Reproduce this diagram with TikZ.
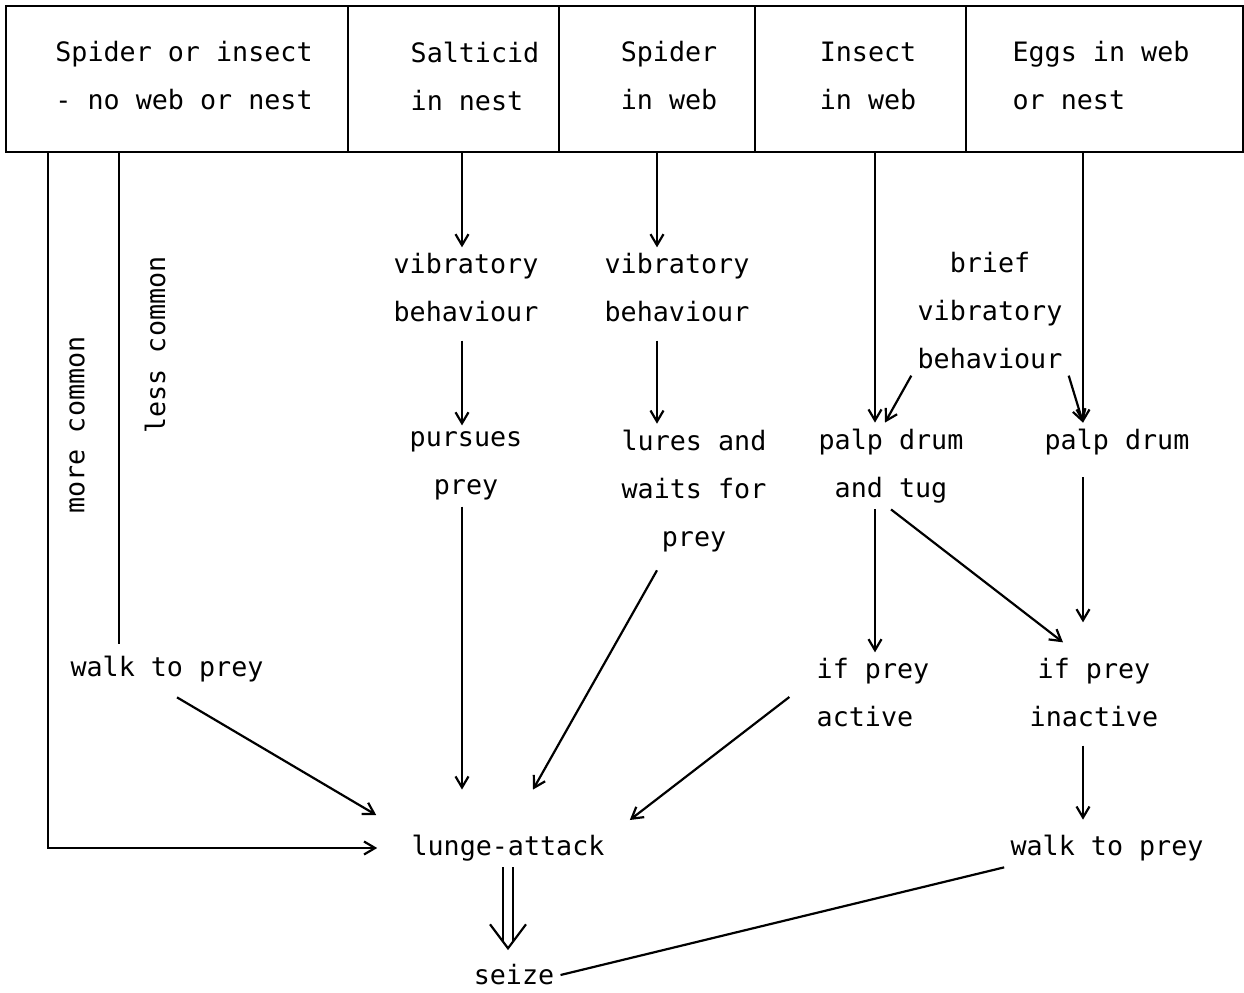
\documentclass[tikz,border=0pt]{standalone}
\usepackage{fontspec}
\setmonofont{DejaVu Sans Mono}
\usetikzlibrary{arrows.meta,calc}
\begin{document}
\begin{tikzpicture}[x=0.02cm,y=-0.02cm,
  txt/.style={font=\ttfamily\fontsize{15.2}{27.3}\selectfont, inner sep=0.12cm, align=center},
  cell/.style={draw, line width=1.3pt, anchor=north west, minimum height=2.92cm, inner sep=0pt, outer sep=0pt},
  arr/.style={line width=1.25pt, -{Straight Barb[length=0.22cm,width=0.26cm]}},
  ln/.style={line width=1.25pt}]
\path[use as bounding box, fill=white] (0,0) rectangle (1244,993);

% top row of cells
\node[cell, minimum width=6.84cm] (b1) at (6,6) {};
\node[cell, minimum width=4.22cm] (b2) at (348,6) {};
\node[cell, minimum width=3.92cm] (b3) at (559,6) {};
\node[cell, minimum width=4.22cm] (b4) at (755,6) {};
\node[cell, minimum width=5.54cm] (b5) at (966,6) {};

\node[txt, align=left] (t1) at (184,76) {Spider or insect\\- no web or nest};
\node[txt, align=left] (t2) at (475,76) {Salticid\\in nest};
\node[txt, align=left] (t3) at (669,76) {Spider\\in web};
\node[txt, align=left] (t4) at (868,76) {Insect\\in web};
\node[txt, align=left] (t5) at (1101,76) {Eggs in web\\or nest};

% text nodes
\node[txt] (vib1) at (466,288) {vibratory\\behaviour};
\node[txt] (pursue) at (466,466) {pursues\\prey};
\node[txt] (vib2) at (677,288) {vibratory\\behaviour};
\node[txt] (lures) at (694,491) {lures and\\waits for\\prey};
\node[txt] (brief) at (990,311) {brief\\vibratory\\behaviour};
\node[txt] (palp1) at (891,466) {palp drum\\and tug};
\node[txt] (palp2) at (1117,442) {palp drum};
\node[txt, align=left] (active) at (873,693) {if prey\\active};
\node[txt] (inactive) at (1094,693) {if prey\\inactive};
\node[txt] (walkL) at (167,669) {walk to prey};
\node[txt] (walkR) at (1107,848) {walk to prey};
\node[txt] (lunge) at (508,848) {lunge-attack};
\node[txt] (seize) at (514,975) {seize};
\node[txt, rotate=90] (mcl) at (77,425) {more common};
\node[txt, rotate=90] (lcl) at (155,345) {less common};

% column coordinates on the bottom of the cells
\coordinate (c1) at (48,152);
\coordinate (c1b) at (119,152);
\coordinate (c2) at (462,152);
\coordinate (c3) at (657,152);
\coordinate (c4) at (875,152);
\coordinate (c5) at (1083,152);

% connectors
\draw[arr, shorten >=0.56cm] (c1) |- (lunge.west);
\draw[ln] (c1b) -- ($(c1b |- walkL.north)+(0,-6)$);
\draw[arr] ($(walkL.south)+(10,9)$) -- ($(lunge.west)+(-29,-33)$);

\draw[arr] (c2) -- (c2 |- vib1.north);
\draw[arr, shorten <=0.24cm] (c2 |- vib1.south) -- (c2 |- pursue.north);
\draw[arr, shorten >=0.78cm] (c2 |- pursue.south) -- (c2 |- lunge.north);

\draw[arr] (c3) -- (c3 |- vib2.north);
\draw[arr, shorten <=0.24cm] (c3 |- vib2.south) -- (c3 |- lures.north);
\draw[arr] ($(c3 |- lures.south)+(0,12)$) -- ($(lunge.north)+(25,-39)$);

\draw[arr] (c4) -- (c4 |- palp1.north);
\draw[arr] (c4 |- palp1.south) -- (c4 |- active.north);
\draw[arr] (palp1.south) -- ($(inactive.north)+(-31,-10)$);
\draw[arr] ($(active.west)+(-21,4)$) -- ($(lunge.east)+(19,-28)$);

\draw[arr] (c5) -- (c5 |- palp2.north);
\draw[arr, shorten <=0.32cm, shorten >=0.6cm] (c5 |- palp2.south) -- (c5 |- inactive.north);
\draw[arr, shorten <=0.24cm, shorten >=0.18cm] (c5 |- inactive.south) -- (c5 |- walkR.north);

\draw[arr] (brief.south west) -- ($(c4 |- palp1.north)+(10,0)$);
\draw[arr] (brief.south east) -- (c5 |- palp2.north);

\draw[ln] (walkR.south west) -- (seize.east);

% double arrow lunge-attack => seize
\coordinate (tip) at ($(lunge.south |- seize.north)+(0,-10)$);
\draw[line width=1.1pt, double distance=0.17cm] (lunge.south) -- ($(tip)+(0,-6)$);
\draw[ln, line join=miter] ($(tip)+(-18,-24)$) -- (tip) -- ($(tip)+(18,-24)$);
\end{tikzpicture}
\end{document}
